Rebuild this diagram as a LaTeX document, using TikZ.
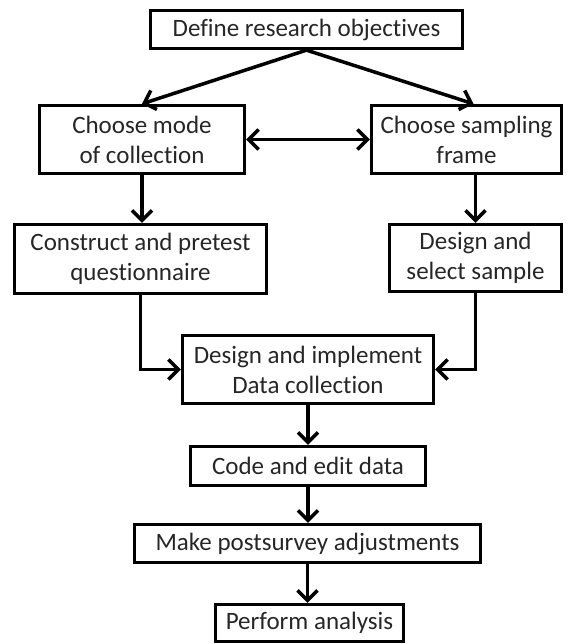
\documentclass[tikz,border=0pt]{standalone}
\usepackage{fontspec}
\setmainfont{Carlito}[Ligatures={NoCommon}]
\usetikzlibrary{arrows.meta}
\tikzset{
  stage/.style={draw, line width=3.3pt, align=center, inner sep=0pt,
    font=\fontsize{25}{30}\selectfont, text=black!85},
  barb/.tip={Straight Barb[length=10pt,width=20pt]},
  flow/.style={line width=3.5pt, -barb},
  bothways/.style={line width=3.5pt, barb-barb}
}
\begin{document}
\begin{tikzpicture}[x=1pt,y=-1pt]
\useasboundingbox (0,0) rectangle (568,644);

\node[stage, minimum width=312pt, minimum height=38pt] (def)  at (306.5,29.5) {Define research objectives};
\node[stage, minimum width=205pt, minimum height=68pt] (mode) at (142,139.5) {Choose mode\\of collection};
\node[stage, minimum width=190pt, minimum height=68pt] (frame) at (466.5,139.5) {Choose sampling\\frame};
\node[stage, minimum width=252pt, minimum height=69pt] (cons) at (140.5,259) {Construct and pretest\\questionnaire};
\node[stage, minimum width=172pt, minimum height=67pt] (samp) at (475.5,258) {Design and\\select sample};
\node[stage, minimum width=251pt, minimum height=68pt] (data) at (308,369.5) {Design and implement\\Data collection};
\node[stage, minimum width=235pt, minimum height=39pt] (code) at (308,466) {Code and edit data};
\node[stage, minimum width=346pt, minimum height=38pt] (adj)  at (307.5,543.5) {Make postsurvey adjustments};
\node[stage, minimum width=188pt, minimum height=37pt] (perf) at (309.5,623) {Perform analysis};

% fan-out from the objectives
\draw[flow] (def.south) -- (mode.north);
\draw[flow] (def.south) -- ([xshift=7pt]frame.north);

% the two choices depend on each other
\draw[bothways] (mode.east) -- (frame.west);

% left and right branches
\draw[flow] (mode.south) -- (mode.south |- cons.north);
\draw[flow] (samp.north |- frame.south) -- (samp.north);

% branches join at data collection
\draw[flow] (cons.south) -- (cons.south |- data.west) -- (data.west);
\draw[flow] (samp.south) -- (samp.south |- data.east) -- (data.east);

% main sequence
\draw[flow] (data.south) -- (code.north);
\draw[flow] (code.south) -- (code.south |- adj.north);
\draw[flow] (adj.south) -- (adj.south |- perf.north);
\end{tikzpicture}
\end{document}
